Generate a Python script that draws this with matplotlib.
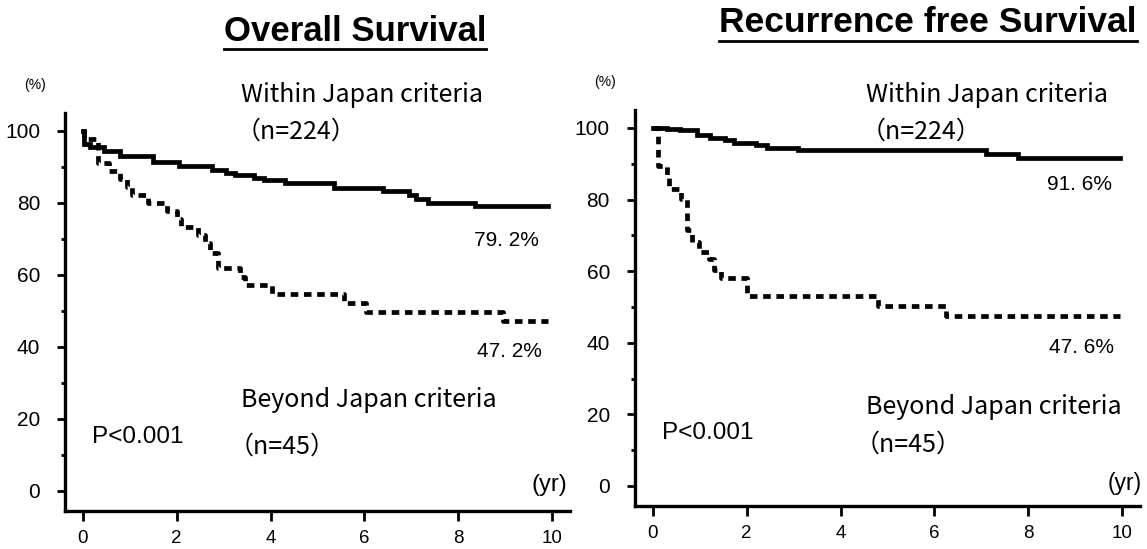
import matplotlib
matplotlib.use("Agg")
import matplotlib.pyplot as plt
from matplotlib.lines import Line2D
from matplotlib.ticker import MultipleLocator

# Kaplan-Meier curves (years, % surviving)
os_within_t = [0, 0.03, 0.15, 0.45, 0.8, 1.5, 2.05, 2.75, 3.05, 3.25, 3.65, 3.85, 4.3, 5.35, 6.4, 6.95, 7.1, 7.35, 8.35, 9.9]
os_within_s = [100, 96.5, 95.5, 94.5, 93, 91.5, 90.3, 89.2, 88.3, 87.7, 87, 86.3, 85.5, 84.2, 83.2, 82.2, 81, 80, 79.2, 79.2]

os_beyond_t = [0, 0.02, 0.33, 0.55, 0.8, 0.95, 1.05, 1.38, 1.8, 2.0, 2.1, 2.45, 2.6, 2.7, 2.87, 3.35, 3.45, 4.03, 5.57, 6.03, 8.95, 9.92]
os_beyond_s = [100, 97.8, 91.1, 88.9, 86.7, 84.4, 82.2, 80.0, 77.8, 75.6, 73.3, 71.1, 68.9, 66.2, 62.0, 59.5, 57.2, 54.8, 52.2, 49.8, 47.2, 47.2]

rfs_within_t = [0, 0.31, 0.58, 0.94, 1.21, 1.53, 1.73, 2.2, 2.43, 3.1, 7.1, 7.77, 9.95]
rfs_within_s = [100, 99.7, 99.3, 98.1, 97.1, 96.5, 95.7, 95.1, 94.4, 93.7, 92.6, 91.6, 91.6]

rfs_beyond_t = [0, 0.12, 0.3, 0.35, 0.6, 0.72, 0.83, 0.98, 1.2, 1.3, 1.45, 2.0, 4.8, 6.25, 9.95]
rfs_beyond_s = [100, 89.5, 86.5, 83.0, 80.2, 71.5, 68.1, 65.3, 63.4, 60.2, 58.0, 53.0, 50.4, 47.6, 47.6]

x_ticks = [0, 2, 4, 6, 8, 10]
y_ticks = [0, 20, 40, 60, 80, 100]

titles = ["Overall Survival", "Recurrence free Survival"]
final_within = ["79. 2%", "91. 6%"]
final_beyond = ["47. 2%", "47. 6%"]

gothic = ["Noto Sans CJK JP", "DejaVu Sans"]
arial = ["Liberation Sans", "DejaVu Sans"]

fig = plt.figure(figsize=(11.47, 5.49), dpi=100)
ax1 = fig.add_axes([0.0567, 0.0692, 0.4403, 0.725])
ax2 = fig.add_axes([0.5536, 0.0783, 0.4403, 0.7213])

curves = [(os_within_t, os_within_s, os_beyond_t, os_beyond_s),
          (rfs_within_t, rfs_within_s, rfs_beyond_t, rfs_beyond_s)]

for ax, (wt, ws, bt, bs) in zip([ax1, ax2], curves):
    ax.step(wt, ws, where="post", color="black", lw=3.4, solid_joinstyle="miter")
    ax.step(bt, bs, where="post", color="black", lw=3.4,
            linestyle=(0, (1.6, 1.2)), dash_capstyle="butt")
    ax.set_xlim(-0.38, 10.38)
    ax.set_ylim(-5.6, 105)
    ax.spines["top"].set_visible(False)
    ax.spines["right"].set_visible(False)
    ax.spines["left"].set_linewidth(2.4)
    ax.spines["bottom"].set_linewidth(2.4)
    ax.set_xticks(x_ticks)
    ax.set_yticks(y_ticks)
    ax.yaxis.set_minor_locator(MultipleLocator(10))
    ax.tick_params(axis="both", which="both", direction="out", width=2, color="black")
    ax.tick_params(axis="x", length=7, pad=7)
    ax.tick_params(axis="y", which="major", length=6, pad=12)
    ax.tick_params(axis="y", which="minor", length=3)
    for lab in ax.get_xticklabels():
        lab.set_family(arial)
        lab.set_fontsize(13.5)
    for lab in ax.get_yticklabels():
        lab.set_family(arial)
        lab.set_fontsize(15)

# left panel texts
ax1.text(3.37, 110, "Within Japan criteria", family=gothic, fontsize=18, va="center")
ax1.text(3.26, 99.7, "（n=224）", family=gothic, fontsize=18, va="center")
ax1.text(9.72, 69.7, final_within[0], family=arial, fontsize=15, va="center", ha="right")
ax1.text(9.77, 38.6, final_beyond[0], family=arial, fontsize=15, va="center", ha="right")
ax1.text(3.37, 25.3, "Beyond Japan criteria", family=gothic, fontsize=18, va="center")
ax1.text(3.11, 12.2, "（n=45）", family=gothic, fontsize=18, va="center")
ax1.text(0.19, 15, "P<0.001", family=arial, fontsize=17.5, va="center")
ax1.text(10.32, 1.7, "(yr)", family=arial, fontsize=17, va="center", ha="right")

# right panel texts
ax2.text(4.54, 109.2, "Within Japan criteria", family=gothic, fontsize=18, va="center")
ax2.text(4.43, 98.9, "（n=224）", family=gothic, fontsize=18, va="center")
ax2.text(9.79, 84.1, final_within[1], family=arial, fontsize=15, va="center", ha="right")
ax2.text(9.83, 38.8, final_beyond[1], family=arial, fontsize=15, va="center", ha="right")
ax2.text(4.54, 22.1, "Beyond Japan criteria", family=gothic, fontsize=18, va="center")
ax2.text(4.31, 11.5, "（n=45）", family=gothic, fontsize=18, va="center")
ax2.text(0.19, 14.8, "P<0.001", family=arial, fontsize=17.5, va="center")
ax2.text(10.42, 0.8, "(yr)", family=arial, fontsize=16.5, va="center", ha="right")

fig.text(35 / 1147, 1 - 85 / 549, "(%)", family=arial, fontsize=10, ha="center", va="center")
fig.text(605 / 1147, 1 - 82 / 549, "(%)", family=arial, fontsize=10, ha="center", va="center")

t1 = fig.text(355 / 1147, 1 - 31.5 / 549, titles[0], family=arial, fontsize=25,
              fontweight="bold", ha="center", va="center")
t2 = fig.text(928 / 1147, 1 - 23 / 549, titles[1], family=arial, fontsize=25.5,
              fontweight="bold", ha="center", va="center")

# underline the titles
fig.canvas.draw()
inv = fig.transFigure.inverted()
for t in [t1, t2]:
    bb = t.get_window_extent()
    (x0, y0), (x1, _) = inv.transform([(bb.x0, bb.y0), (bb.x1, bb.y1)])
    fig.add_artist(Line2D([x0, x1], [y0 - 0.002, y0 - 0.002], color="black", lw=2))

fig.savefig("out.png", dpi=100)
